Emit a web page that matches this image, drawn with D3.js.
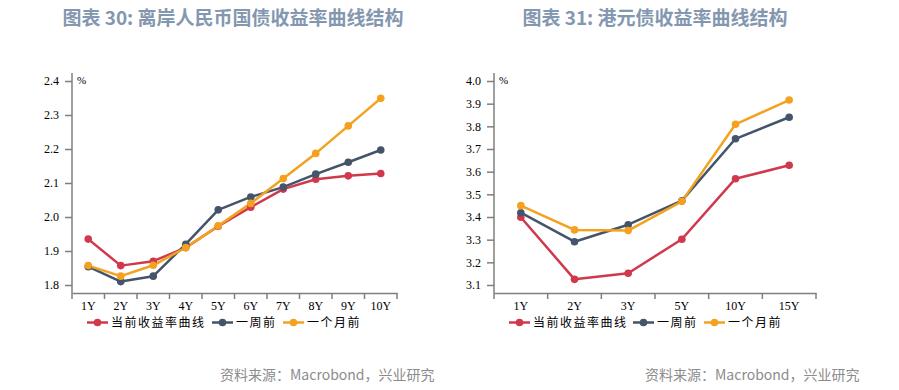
<!DOCTYPE html>
<html><head><meta charset="utf-8">
<script src="https://cdn.jsdelivr.net/npm/d3@7"></script>
<style>
body{margin:0;background:#fff;}
svg{display:block;}
</style></head>
<body><svg id="c" width="899" height="390"></svg>
<script>
// ---- data ----
const cnhCategories = ["1Y","2Y","3Y","4Y","5Y","6Y","7Y","8Y","9Y","10Y"];
const cnhCurrent = [1.935,1.857,1.870,1.910,1.973,2.029,2.082,2.111,2.121,2.128];
const cnhWeekAgo = [1.854,1.810,1.826,1.920,2.021,2.059,2.088,2.126,2.161,2.197];
const cnhMonthAgo = [1.857,1.826,1.858,1.910,1.974,2.040,2.113,2.187,2.268,2.349];
const cnhTicks = [1.8,1.9,2.0,2.1,2.2,2.3,2.4];

const hkdCategories = ["1Y","2Y","3Y","5Y","10Y","15Y"];
const hkdCurrent = [3.399,3.125,3.152,3.302,3.569,3.628];
const hkdWeekAgo = [3.419,3.291,3.366,3.472,3.745,3.840];
const hkdMonthAgo = [3.450,3.343,3.340,3.469,3.809,3.916];
const hkdTicks = [3.1,3.2,3.3,3.4,3.5,3.6,3.7,3.8,3.9,4.0];

const seriesNames = ["当前收益率曲线","一周前","一个月前"];
const seriesColors = ["#d0394c","#44546a","#f4a11f"];
const titles = ["图表 30: 离岸人民币国债收益率曲线结构","图表 31: 港元债收益率曲线结构"];
const sourceText = "资料来源：Macrobond，兴业研究";

const svg = d3.select("#c");
const axisColor = "#7f7f7f";

function drawChart(cfg){
  const g = svg.append("g");
  const x = d3.scaleBand().domain(cfg.cats).range([cfg.x0, cfg.x1]);
  const y = d3.scaleLinear().domain([cfg.ticks[0], cfg.ticks[cfg.ticks.length-1]]).range([285, 81]);
  const axisY = 293;

  // y axis
  const ya = g.append("g").attr("transform",`translate(${cfg.x0},0)`)
    .call(d3.axisLeft(y).tickValues(cfg.ticks).tickFormat(d3.format(".1f")).tickSize(7).tickPadding(6));
  ya.select(".domain").remove();
  ya.selectAll(".tick line").attr("stroke",axisColor).attr("stroke-width",1.5);
  ya.selectAll(".tick text").attr("font-family","'Liberation Serif', serif").attr("font-size",12).attr("fill","#000");
  g.append("line").attr("x1",cfg.x0).attr("x2",cfg.x0).attr("y1",73).attr("y2",axisY)
    .attr("stroke",axisColor).attr("stroke-width",1.5);
  g.append("text").attr("x",cfg.x0+5).attr("y",84).attr("font-family","'Liberation Serif', serif")
    .attr("font-size",11).text("%");

  // x axis
  const xa = g.append("g").attr("transform",`translate(0,${axisY})`)
    .call(d3.axisBottom(x).tickSize(0).tickPadding(8).tickSizeOuter(0));
  xa.select(".domain").attr("stroke",axisColor).attr("stroke-width",1.5);
  xa.selectAll(".tick text").attr("font-family","'Liberation Serif', serif").attr("font-size",12).attr("fill","#000");
  const bounds = cfg.cats.map(c=>x(c)).concat([x(cfg.cats[cfg.cats.length-1])+x.bandwidth()]);
  g.selectAll(".xb").data(bounds).enter().append("line")
    .attr("x1",d=>d).attr("x2",d=>d).attr("y1",axisY).attr("y2",axisY+6)
    .attr("stroke",axisColor).attr("stroke-width",1.5);

  // lines
  const cx = c => x(c)+x.bandwidth()/2;
  const line = d3.line().x((d,i)=>cx(cfg.cats[i])).y(d=>y(d));
  cfg.series.forEach((s,si)=>{
    g.append("path").datum(s).attr("d",line).attr("fill","none")
      .attr("stroke",seriesColors[si]).attr("stroke-width",2.5).attr("stroke-linejoin","round");
  });
  cfg.series.forEach((s,si)=>{
    g.selectAll(null).data(s).enter().append("circle")
      .attr("cx",(d,i)=>cx(cfg.cats[i])).attr("cy",d=>y(d)).attr("r",3.8)
      .attr("fill",seriesColors[si]);
  });

  // legend
  const ly = 322.5;
  cfg.legend.forEach((lx,i)=>{
    g.append("line").attr("x1",lx).attr("x2",lx+21).attr("y1",ly).attr("y2",ly)
      .attr("stroke",seriesColors[i]).attr("stroke-width",2.5);
    g.append("circle").attr("cx",lx+10.5).attr("cy",ly).attr("r",3.8).attr("fill",seriesColors[i]);
    g.append("text").attr("x",lx+24).attr("y",ly+4.5)
      .attr("font-family","'Noto Sans CJK SC', sans-serif").attr("font-size",12)
      .attr("letter-spacing",1.5).attr("fill","#000").text(seriesNames[i]);
  });

  // title
  svg.append("text").attr("x",cfg.titleX).attr("y",25).attr("text-anchor","middle")
    .attr("font-family","'Noto Sans CJK SC', sans-serif").attr("font-weight","bold")
    .attr("font-size",19).attr("fill","#8497b0").text(cfg.title);
  // source
  svg.append("text").attr("x",cfg.srcX).attr("y",380)
    .attr("font-family","'Noto Sans CJK SC', sans-serif").attr("font-size",14)
    .attr("fill","#8c8c8c").text(sourceText);
}

drawChart({cats:cnhCategories, series:[cnhCurrent,cnhWeekAgo,cnhMonthAgo], ticks:cnhTicks,
  x0:72, x1:397, legend:[87,212,283], title:titles[0], titleX:233, srcX:220});
drawChart({cats:hkdCategories, series:[hkdCurrent,hkdWeekAgo,hkdMonthAgo], ticks:hkdTicks,
  x0:494, x1:816, legend:[509,633,704], title:titles[1], titleX:655, srcX:645});
</script></body></html>
